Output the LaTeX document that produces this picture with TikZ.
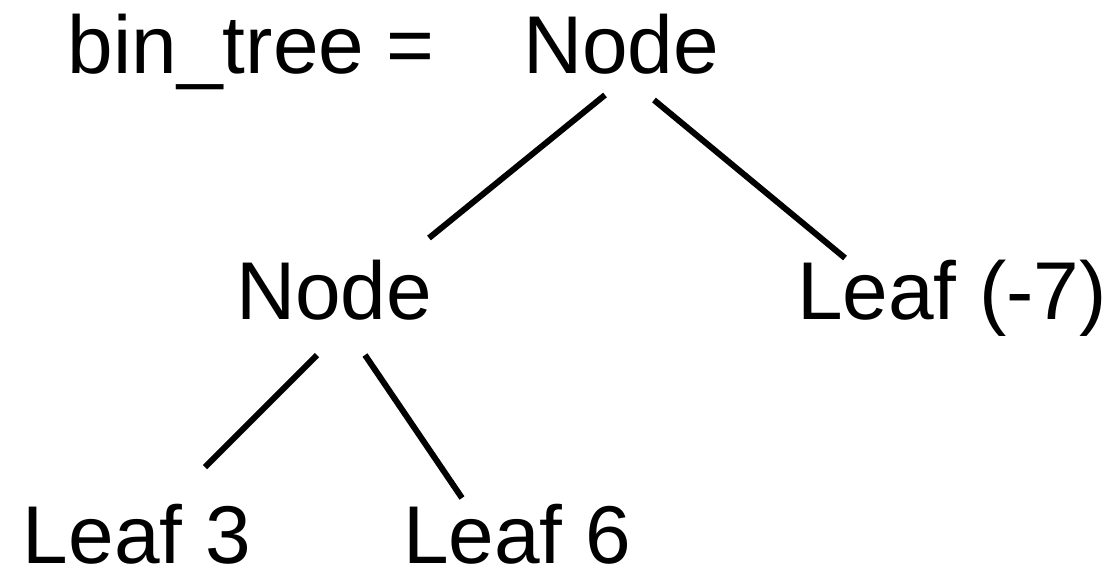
\documentclass[tikz,border=0pt]{standalone}
\usepackage{fontspec}
\setmainfont{Liberation Sans}
\begin{document}
\begin{tikzpicture}[x=0.5pt,y=-0.5pt,
  lbl/.style={anchor=base west,inner sep=0pt,outer sep=0pt,font=\fontsize{41}{49}\selectfont},
  edge/.style={line width=3pt,line cap=butt}]
\useasboundingbox (0,0) rectangle (1116,569);
\node[lbl] (title) at (68,73) {bin\_tree =};
\node[lbl] (root) at (523,73) {Node};
\node[lbl] (n2) at (236,319) {Node};
\node[lbl] (l7) at (797,319) {Leaf (-7)};
\node[lbl] (l3) at (23,563) {Leaf 3};
\node[lbl] (l6) at (403,563) {Leaf 6};
\coordinate (rL) at (605,95);
\coordinate (rR) at (654,100);
\coordinate (n2t) at (429,238);
\coordinate (l7t) at (845,258);
\coordinate (nL) at (317,355);
\coordinate (nR) at (365,355);
\coordinate (l3t) at (205,467);
\coordinate (l6t) at (462,498);
\draw[edge] (rL) -- (n2t);
\draw[edge] (rR) -- (l7t);
\draw[edge] (nL) -- (l3t);
\draw[edge] (nR) -- (l6t);
\end{tikzpicture}
\end{document}
